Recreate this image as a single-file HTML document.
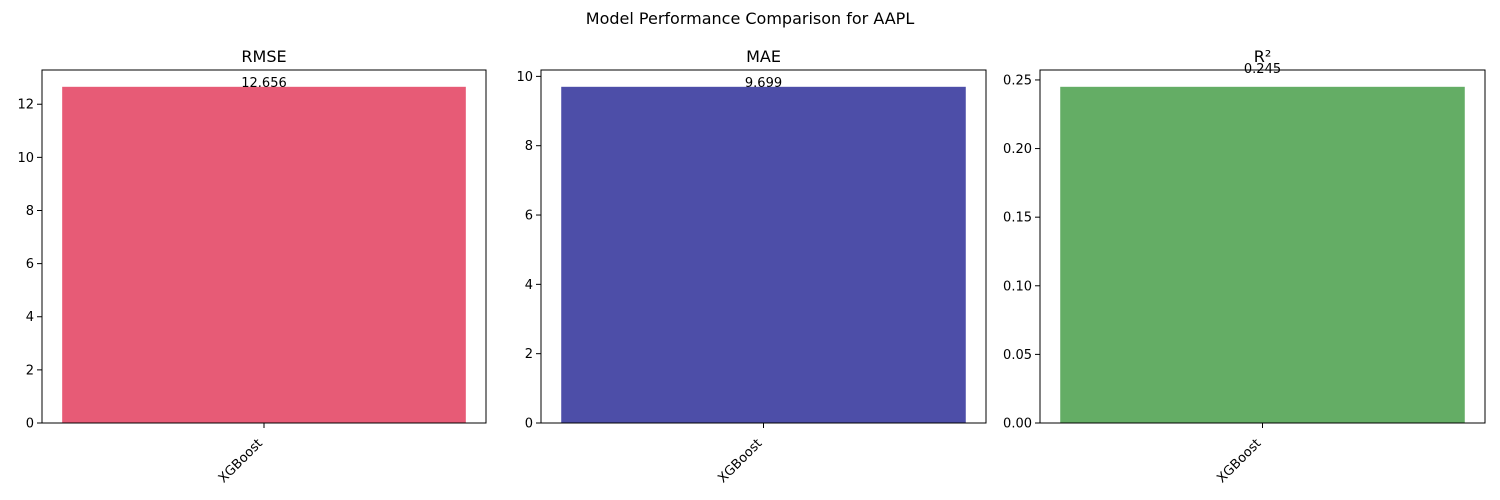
<!DOCTYPE html>
<html><head><meta charset="utf-8">
<style>
html,body{margin:0;padding:0;background:#fff;}
svg{display:block;font-family:"DejaVu Sans","Liberation Sans",sans-serif;}
</style></head>
<body>
<svg id="chart" width="1500" height="500" viewBox="0 0 1500 500">
<text x="750" y="24" text-anchor="middle" font-size="16" fill="#000">Model Performance Comparison for AAPL</text>
</svg>
<script>
const categories = ["XGBoost"];
const metricNames = ["RMSE", "MAE", "R²"];
const rmseValues = [12.656];
const maeValues = [9.699];
const r2Values = [0.245];
const valueLabels = ["12.656", "9.699", "0.245"];
const rmseTicks = [0, 2, 4, 6, 8, 10, 12];
const maeTicks = [0, 2, 4, 6, 8, 10];
const r2Ticks = [0, 0.05, 0.10, 0.15, 0.20, 0.25];
const r2TickLabels = ["0.00", "0.05", "0.10", "0.15", "0.20", "0.25"];

const svg = document.getElementById('chart');
const NS = 'http://www.w3.org/2000/svg';
function mk(tag, attrs, parent){const e=document.createElementNS(NS,tag);for(const k in attrs)e.setAttribute(k,attrs[k]);(parent||svg).appendChild(e);return e;}

const panels = [
  {x0:42, x1:486, values:rmseValues, ticks:rmseTicks, tl:rmseTicks.map(String), color:'#e75b76', offset:0, name:'rmse'},
  {x0:541, x1:986, values:maeValues, ticks:maeTicks, tl:maeTicks.map(String), color:'#4d4ea8', offset:0, name:'mae'},
  {x0:1040, x1:1485, values:r2Values, ticks:r2Ticks, tl:r2TickLabels, color:'#64ad65', offset:0.01, name:'r2'}
];
const y0 = 70, y1 = 423;
panels.forEach((p, i) => {
  const g = mk('g', {});
  
  
  const vmax = Math.max(...p.values) * 1.05;
  const ys = v => y1 - (v / vmax) * (y1 - y0);
  const n = categories.length;
  const xmin = -0.44, xmax = n - 1 + 0.44;
  const xs = v => p.x0 + (v - xmin) / (xmax - xmin) * (p.x1 - p.x0);
  categories.forEach((c, j) => {
    const v = p.values[j];
    const bar = mk('rect', {x: xs(j - 0.4), y: ys(v), width: xs(j + 0.4) - xs(j - 0.4), height: y1 - ys(v), fill: p.color}, g);
    
    
    const lab = mk('text', {x: xs(j), y: ys(v + p.offset), 'text-anchor': 'middle', 'font-size': 13, fill: '#000'}, g);
    
    
    lab.textContent = valueLabels[i];
    const tx = xs(j);
    mk('line', {x1: tx, x2: tx, y1: y1, y2: y1 + 5, stroke: '#000', 'stroke-width': 1}, g);
    const xl = mk('text', {x: 0, y: 0, 'text-anchor': 'end', 'font-size': 13, fill: '#000', transform: `translate(${tx - 1},${y1 + 21}) rotate(-45)`}, g);
    
    
    xl.textContent = c;
  });
  p.ticks.forEach((t, k) => {
    const y = ys(t);
    mk('line', {x1: p.x0 - 5, x2: p.x0, y1: y, y2: y, stroke: '#000', 'stroke-width': 1}, g);
    const tl = mk('text', {x: p.x0 - 8, y: y + 4.5, 'text-anchor': 'end', 'font-size': 13, fill: '#000'}, g);
    
    
    tl.textContent = p.tl[k];
  });
  const fr = mk('rect', {x: p.x0, y: y0, width: p.x1 - p.x0, height: y1 - y0, fill: 'none', stroke: '#000', 'stroke-width': 1}, g);
  
  
  const ti = mk('text', {x: (p.x0 + p.x1) / 2, y: 62, 'text-anchor': 'middle', 'font-size': 16, fill: '#000'}, g);
  
  
  ti.textContent = metricNames[i];
});
</script>
</body></html>
